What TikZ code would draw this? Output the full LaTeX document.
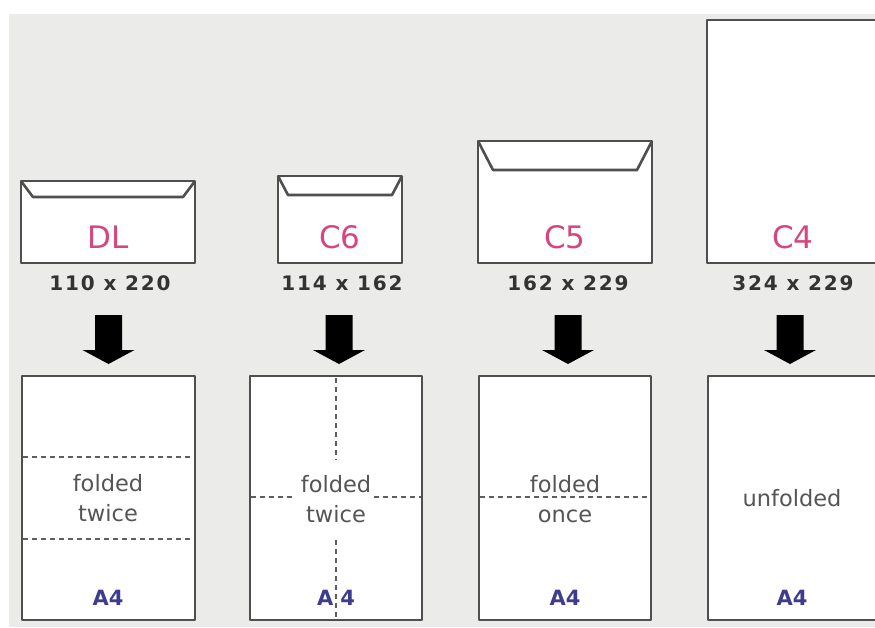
\documentclass[tikz,border=0pt]{standalone}
\usepackage{fontspec}
\setmainfont{DejaVu Sans}
\definecolor{bggray}{HTML}{EBECEA}
\definecolor{linegray}{HTML}{4F4F4F}
\definecolor{foldgray}{HTML}{5E5E5E}
\definecolor{pinklab}{HTML}{D64580}
\definecolor{dimgray}{HTML}{333333}
\definecolor{textgray}{HTML}{555555}
\definecolor{bluea}{HTML}{3E3C8E}
\begin{document}
\begin{tikzpicture}[x=1pt,y=-1pt,
  edge/.style={draw=linegray, line width=2.6pt, fill=white, line join=round},
  flap/.style={draw=linegray, line width=2.6pt, line join=round},
  fold/.style={draw=foldgray, line width=2.2pt, dash pattern=on 4.5pt off 4.5pt},
  sizelabel/.style={text=pinklab, font=\fontsize{31}{33}\selectfont, inner sep=0pt},
  dimlabel/.style={text=dimgray, font=\bfseries\fontsize{20}{22}\selectfont\addfontfeature{LetterSpace=9}, inner sep=0pt},
  foldtext/.style={text=textgray, font=\fontsize{22.5}{29.5}\selectfont, align=center, inner sep=0pt},
  paperlabel/.style={text=bluea, font=\bfseries\fontsize{21}{22}\selectfont, inner sep=0pt},
  blockarrow/.style={fill=black}
]
\useasboundingbox (0,0) rectangle (875,627);
\clip (0,0) rectangle (875,627);
\fill[bggray] (9,14) rectangle (875,627);

% ---------- envelopes ----------
% DL
\draw[edge] (21,181) rectangle (195,263);
\draw[flap] (21,181) -- (33,197) -- (183,197) -- (195,181);
% C6
\draw[edge] (278,176) rectangle (402,263);
\draw[flap] (278,176) -- (288,195) -- (392,195) -- (402,176);
% C5
\draw[edge] (478,141) rectangle (652,263);
\draw[flap] (478,141) -- (493,170) -- (637,170) -- (652,141);
% C4
\draw[edge] (707,20) rectangle (885,263);

% envelope labels
\node[sizelabel] (dl) at (108,237) {DL};
\node[sizelabel] (c6) at (340,237) {C6};
\node[sizelabel] (c5) at (565,237) {C5};
\node[sizelabel] (c4) at (793,237) {C4};

% dimensions
\node[dimlabel] (dimdl) at (110,283) {110 x 220};
\node[dimlabel] (dimc6) at (342,283) {114 x 162};
\node[dimlabel] (dimc5) at (568,283) {162 x 229};
\node[dimlabel] (dimc4) at (793,283) {324 x 229};

% block arrows
\foreach \cx in {108.5,339,568,790}{
  \fill[blockarrow] (\cx-13.5,315) -- (\cx+13.5,315) -- (\cx+13.5,350)
    -- (\cx+26,350) -- (\cx,364) -- (\cx-26,350) -- (\cx-13.5,350) -- cycle;
}

% ---------- A4 sheets ----------
\draw[edge] (22,376) rectangle (195,620);
\draw[edge] (250,376) rectangle (422,620);
\draw[edge] (479,376) rectangle (651,620);
\draw[edge] (708,376) rectangle (885,620);

% DL folds
\draw[fold] (23,457) -- (194,457);
\draw[fold] (23,539) -- (194,539);
% C6 folds
\draw[fold] (336,378) -- (336,460);
\draw[fold] (336,540) -- (336,619);
\draw[fold] (251,497) -- (295,497);
\draw[fold] (374,497) -- (421,497);
% C5 fold
\draw[fold] (480,497) -- (650,497);

% fold texts
\node[foldtext] (fdl) at (108,498) {folded\\twice};
\node[foldtext] (fc6) at (336,499) {folded\\twice};
\node[foldtext] (fc5) at (565,499) {folded\\once};
\node[foldtext] (fc4) at (792,498) {unfolded};

% paper labels
\node[paperlabel] (adl) at (108,598) {A4};
\node[paperlabel] (ac6) at (336,598) {A\hspace{7pt}4};
\node[paperlabel] (ac5) at (565,598) {A4};
\node[paperlabel] (ac4) at (792,598) {A4};
\end{tikzpicture}
\end{document}
